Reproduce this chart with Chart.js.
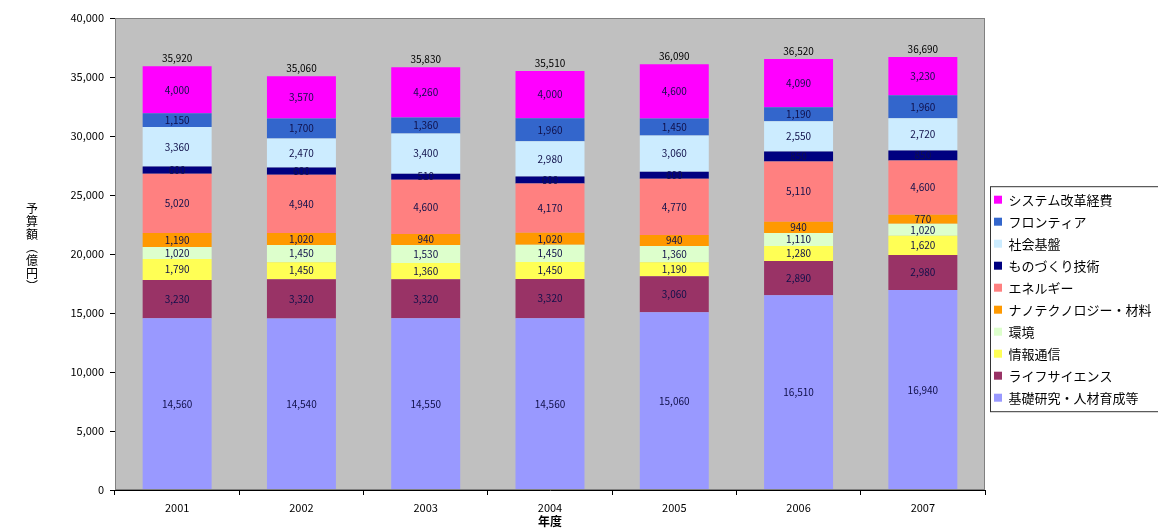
<!DOCTYPE html>
<html>
<head>
<meta charset="utf-8">
<script src="https://cdn.jsdelivr.net/npm/chart.js@4.4.1/dist/chart.umd.min.js"></script>
<style>
  body { margin: 0; background: #fff; }
  #wrap { width: 1158px; height: 529px; }
</style>
</head>
<body>
<div id="wrap"><canvas id="budgetChart"></canvas></div>
<script>
// Years on the x axis
const years = ['2001', '2002', '2003', '2004', '2005', '2006', '2007'];

// Series, stacked bottom -> top
const kiso     = [14560, 14540, 14550, 14560, 15060, 16510, 16940];
const life     = [3230, 3320, 3320, 3320, 3060, 2890, 2980];
const joho     = [1790, 1450, 1360, 1450, 1190, 1280, 1620];
const kankyo   = [1020, 1450, 1530, 1450, 1360, 1110, 1020];
const nano     = [1190, 1020, 940, 1020, 940, 940, 770];
const energy   = [5020, 4940, 4600, 4170, 4770, 5110, 4600];
const mono     = [600, 600, 510, 600, 600, 850, 850];
const shakai   = [3360, 2470, 3400, 2980, 3060, 2550, 2720];
const frontier = [1150, 1700, 1360, 1960, 1450, 1190, 1960];
const system   = [4000, 3570, 4260, 4000, 4600, 4090, 3230];

const seriesNames = ['基礎研究・人材育成等', 'ライフサイエンス', '情報通信', '環境', 'ナノテクノロジー・材料',
    'エネルギー', 'ものづくり技術', '社会基盤', 'フロンティア', 'システム改革経費'];
const seriesData = [kiso, life, joho, kankyo, nano, energy, mono, shakai, frontier, system];
const seriesColors = ['#9999FF', '#993366', '#FFFF55', '#DDFFCC', '#FF9900',
    '#FF8080', '#000080', '#CCECFF', '#3366CC', '#FF00FF'];

// y axis ticks
const yTicks = [0, 5000, 10000, 15000, 20000, 25000, 30000, 35000, 40000];

const totals = years.map((_, i) => seriesData.reduce((s, d) => s + d[i], 0));
const FONT = '"Noto Sans CJK JP", "Noto Sans", sans-serif';

// gray plot area + border, value labels, vertical y title
const decorations = {
    id: 'decorations',
    beforeDatasetsDraw(chart) {
        const { ctx, chartArea: a } = chart;
        ctx.save();
        ctx.fillStyle = '#C0C0C0';
        ctx.fillRect(a.left, a.top, a.width, a.height);
        ctx.restore();
    },
    afterDatasetsDraw(chart) {
        const { ctx, chartArea: a } = chart;
        ctx.save();
        ctx.strokeStyle = '#808080';
        ctx.lineWidth = 1;
        ctx.strokeRect(a.left + 0.5, a.top + 0.5, a.width - 1, a.height - 1);

        ctx.font = '10px ' + FONT;
        ctx.textAlign = 'center';
        ctx.textBaseline = 'middle';
        ctx.fillStyle = '#10104a';
        chart.data.datasets.forEach((ds, i) => {
            const meta = chart.getDatasetMeta(i);
            meta.data.forEach((bar, j) => {
                const p = bar.getProps(['x', 'y', 'base'], true);
                ctx.fillText(ds.data[j].toLocaleString('en-US'), p.x, (p.y + p.base) / 2);
            });
        });
        const top = chart.getDatasetMeta(chart.data.datasets.length - 1);
        ctx.fillStyle = '#000';
        top.data.forEach((bar, j) => {
            const p = bar.getProps(['x', 'y'], true);
            ctx.fillText(totals[j].toLocaleString('en-US'), p.x, p.y - 8);
        });

        // vertical y axis title
        const chars = ['予', '算', '額', '︵', '億', '円', '︶'];
        ctx.font = '12px ' + FONT;
        ctx.fillStyle = '#000';
        chars.forEach((c, k) => ctx.fillText(c, 32, 208 + k * 13));

        // legend frame
        const lg = chart.legend;
        if (lg && lg.legendHitBoxes.length) {
            const hb = lg.legendHitBoxes;
            const y0 = Math.min(...hb.map(h => h.top)) - 7;
            const y1 = Math.max(...hb.map(h => h.top + h.height)) + 7;
            ctx.strokeStyle = '#333';
            ctx.lineWidth = 1;
            ctx.strokeRect(lg.left + 5.5, y0 + 0.5, 200, y1 - y0);
        }
        ctx.restore();
    }
};

const chartCtx = document.getElementById('budgetChart').getContext('2d');
const budgetChart = new Chart(chartCtx, {
    type: 'bar',
    data: {
        labels: years,
        datasets: seriesData.map((d, i) => ({
            label: seriesNames[i],
            data: d,
            backgroundColor: seriesColors[i],
            borderWidth: 0,
            categoryPercentage: 1.0,
            barPercentage: 0.555
        }))
    },
    options: {
        responsive: true,
        maintainAspectRatio: false,
        animation: false,
        layout: { padding: { left: 40, top: 18, right: 0, bottom: 0 } },
        plugins: {
            legend: {
                position: 'right',
                reverse: true,
                maxWidth: 173,
                title: { display: true, text: '', font: { size: 12 }, padding: { top: 0, bottom: 36 } },
                labels: {
                    boxWidth: 8,
                    boxHeight: 8,
                    padding: 9,
                    color: '#000',
                    font: { family: FONT, size: 13 }
                }
            },
            tooltip: { enabled: false }
        },
        scales: {
            x: {
                stacked: true,
                afterFit: s => { s.height = 39; },
                grid: { display: true, drawOnChartArea: false, tickLength: 5, color: '#000' },
                border: { color: '#000' },
                ticks: { color: '#000', font: { family: FONT, size: 11 }, padding: 6 },
                title: { display: true, text: '年度', color: '#000', font: { family: FONT, size: 12, weight: 'bold' }, padding: 0 }
            },
            y: {
                stacked: true,
                min: 0,
                max: 40000,
                afterFit: s => { s.width = 75; },
                afterBuildTicks: s => { s.ticks = yTicks.map(v => ({ value: v })); },
                grid: { display: true, drawOnChartArea: false, tickLength: 5, color: '#000' },
                border: { color: '#000' },
                ticks: { color: '#000', font: { family: FONT, size: 11 }, padding: 6 }
            }
        }
    },
    plugins: [decorations]
});
</script>
</body>
</html>
